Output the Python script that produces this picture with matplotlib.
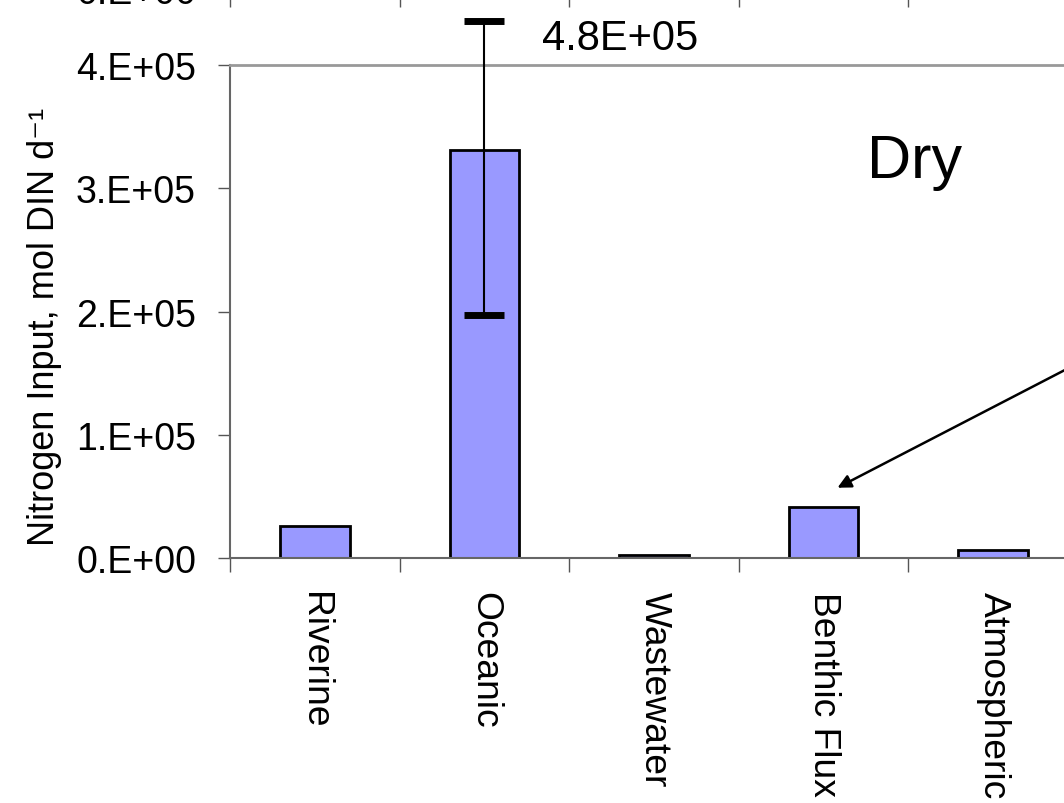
import numpy as np
import matplotlib
matplotlib.use("Agg")
import matplotlib.pyplot as plt

plt.rcParams['font.family'] = ['Liberation Sans', 'DejaVu Sans']

# Nitrogen inputs, dry season (mol DIN / d)
sources = ["Riverine", "Oceanic", "Wastewater", "Benthic Flux", "Atmospheric"]
n_input = [26000, 331000, 2500, 41000, 6500]
err_low = [0, 134000, 0, 0, 0]
err_high = [0, 105000, 0, 0, 0]   # bar clipped, true upper value written as text
ocean_upper_true = 4.8e5
yticks = [0, 1e5, 2e5, 3e5, 4e5]
ytick_labels = ["0.E+00", "1.E+05", "2.E+05", "3.E+05", "4.E+05"]

fig = plt.figure(figsize=(10.64, 8.04), dpi=100)
ax = fig.add_axes([0.2162, 0.3047, 0.9564, 0.6132])

x = np.arange(len(sources))
ax.bar(x, n_input, width=0.41, color="#9999FF", edgecolor="black", linewidth=2, zorder=2)

# error bar only on the oceanic bar
i = sources.index("Oceanic")
ax.errorbar(x[i], n_input[i], yerr=[[err_low[i]], [err_high[i]]], fmt="none",
            ecolor="black", elinewidth=1.5, capsize=14.5, capthick=5,
            clip_on=False, zorder=3)
ax.text(x[i] + 0.34, n_input[i] + err_high[i] - 14000, f"{ocean_upper_true:.1E}",
        fontsize=30, va="center", ha="left")

ax.set_xlim(-0.5, 5.5)
ax.set_ylim(0, 4e5)
ax.set_yticks(yticks)
ax.set_yticklabels(ytick_labels, fontsize=27)
ax.set_xticks(x)
ax.set_xticklabels(sources, rotation=270, fontsize=26.8, va="top", ha="center")
ax.set_xticks(np.arange(-0.5, 6, 1), minor=True)
ax.tick_params(axis="x", which="major", length=0, pad=24)
ax.tick_params(axis="x", which="minor", length=10, width=1, color="#555555", direction="out")
ax.tick_params(axis="y", length=8.5, width=1, color="#555555", direction="out", pad=16)

ax.set_ylabel("Nitrogen Input, mol DIN d⁻¹", fontsize=26)
ax.yaxis.set_label_coords(-0.165, 0.47)

for s in ["left", "bottom"]:
    ax.spines[s].set_color("#666666")
    ax.spines[s].set_linewidth(1.5)
ax.spines["top"].set_color("#999999")
ax.spines["top"].set_linewidth(2)
ax.spines["right"].set_visible(False)

ax.text(3.256, 3.09e5, "Dry", fontsize=44, va="baseline", ha="left")

# arrow towards benthic flux, coming from outside the frame
ax.annotate("", xy=(3.067, 0.56e5), xytext=(4.92, 1.88e5),
            arrowprops=dict(arrowstyle="-|>", color="black", lw=1.8,
                            mutation_scale=20),
            annotation_clip=False)

# bottom of the chart above (wet season), mostly cut off
ax_top = fig.add_axes([0.2162, 1.0124, 0.9564, 0.3])
ax_top.set_xlim(-0.5, 5.5)
ax_top.set_ylim(0, 4e5)
ax_top.set_xticks(np.arange(-0.5, 6, 1))
ax_top.set_xticklabels([])
ax_top.set_yticks([0])
ax_top.set_yticklabels(["0.E+00"], fontsize=27)
ax_top.tick_params(axis="x", length=13, width=1, color="#555555")
ax_top.tick_params(axis="y", length=8.5, color="#555555", pad=16)
for s in ["top", "right"]:
    ax_top.spines[s].set_visible(False)

fig.savefig("out.png", dpi=100)
